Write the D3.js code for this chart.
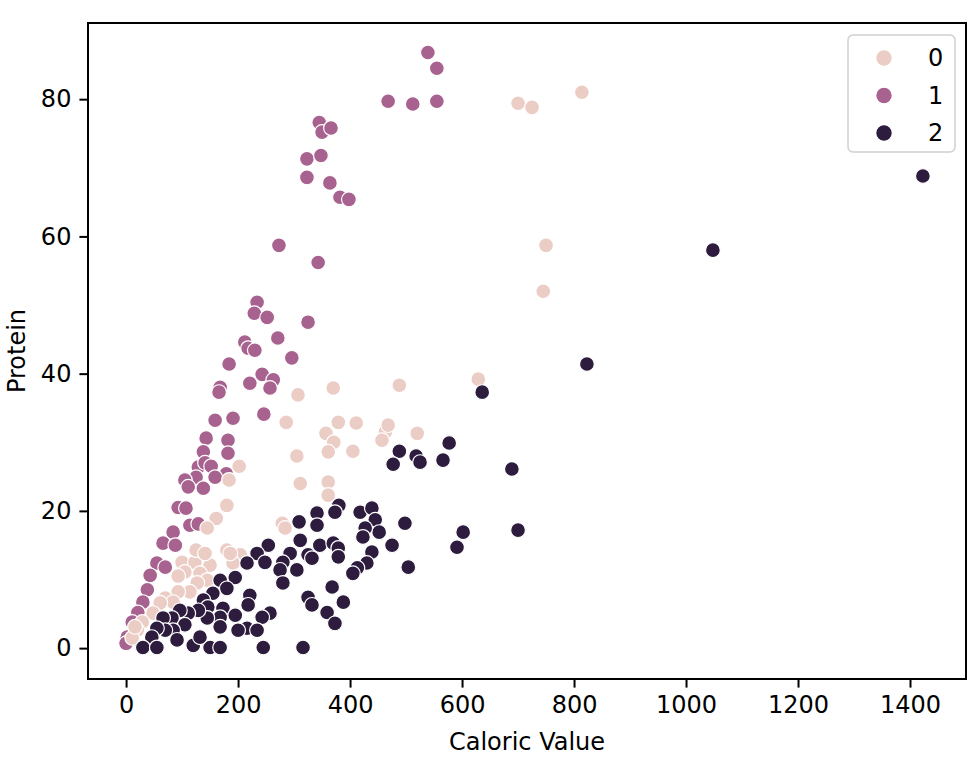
<!DOCTYPE html>
<html>
<head>
<meta charset="utf-8">
<script src="https://cdn.jsdelivr.net/npm/d3@7"></script>
<style>
    body { margin: 0; background: #fff; }
    text { font-family: "DejaVu Sans", sans-serif; fill: #000; }
</style>
</head>
<body>
<div id="chart"></div>
<script>
// [Caloric Value, Protein] per cluster
var cluster0 = [
    [814, 81.0], [700, 79.4], [725, 78.8], [750, 58.7], [745, 52.0], [629, 39.2],
    [488, 38.3], [370, 37.9], [307, 36.9], [286, 32.9], [357, 31.3], [379, 32.9],
    [411, 32.8], [371, 30.0], [361, 28.6], [405, 28.7], [463, 31.5], [457, 30.3],
    [468, 32.5], [520, 31.3], [305, 28.0], [311, 24.0], [361, 24.2], [361, 22.3],
    [202, 26.5], [184, 24.5], [180, 20.8], [161, 18.9], [145, 17.5], [279, 18.2],
    [284, 17.5], [180, 14.3], [204, 13.6], [100, 12.5], [123, 12.5], [150, 12.1],
    [191, 12.4], [105, 11.1], [132, 10.9], [145, 9.9], [127, 9.5], [114, 8.2],
    [93, 8.2], [70, 7.3], [84, 6.7], [61, 6.6], [48, 5.1], [29, 3.8],
    [20, 2.6], [11, 1.5], [16, 3.1], [125, 14.3], [141, 13.8], [93, 10.5],
    [186, 13.8]
];

var cluster1 = [
    [539, 86.8], [555, 84.5], [468, 79.7], [512, 79.3], [555, 79.7], [345, 76.6],
    [350, 75.2], [366, 75.8], [323, 71.3], [348, 71.8], [323, 68.6], [364, 67.8],
    [382, 65.7], [398, 65.4], [273, 58.7], [343, 56.2], [234, 50.4], [229, 48.8],
    [252, 48.2], [325, 47.5], [271, 45.2], [212, 44.6], [218, 43.7], [230, 43.4],
    [296, 42.3], [184, 41.4], [221, 38.6], [243, 39.9], [263, 39.1], [257, 37.9],
    [168, 38.0], [166, 37.3], [246, 34.1], [159, 33.2], [191, 33.5], [143, 30.6],
    [182, 30.3], [182, 28.4], [138, 28.6], [129, 26.4], [141, 27.0], [152, 26.5],
    [125, 24.9], [105, 24.5], [111, 23.5], [138, 23.3], [179, 25.4], [159, 24.9],
    [93, 20.5], [107, 20.4], [114, 17.9], [129, 18.1], [84, 16.9], [66, 15.3],
    [88, 15.0], [55, 12.4], [70, 11.8], [43, 10.6], [38, 8.5], [30, 6.7],
    [21, 5.2], [11, 3.8], [2, 1.6], [0, 0.7]
];

var cluster2 = [
    [1423, 68.8], [1048, 58.0], [823, 41.4], [636, 37.3], [577, 29.9], [488, 28.7],
    [477, 26.8], [518, 28.0], [525, 27.1], [566, 27.4], [689, 26.1], [700, 17.2],
    [602, 16.9], [591, 14.7], [498, 18.2], [475, 15.0], [504, 11.8], [439, 14.0],
    [430, 12.4], [413, 11.7], [405, 10.9], [380, 20.8], [373, 19.8], [418, 19.8],
    [439, 20.4], [445, 18.7], [452, 16.9], [427, 17.5], [423, 16.2], [309, 18.4],
    [341, 19.7], [341, 17.9], [311, 15.7], [346, 15.0], [325, 13.6], [370, 15.3],
    [379, 14.6], [379, 13.3], [293, 13.8], [332, 13.1], [305, 11.4], [368, 8.9],
    [325, 7.4], [332, 6.3], [388, 6.7], [359, 5.2], [373, 3.6], [316, 0.1],
    [254, 15.0], [234, 13.8], [248, 12.5], [280, 12.5], [275, 11.4], [280, 9.5],
    [216, 12.4], [195, 10.3], [168, 9.9], [180, 8.7], [155, 8.0], [138, 7.0],
    [146, 6.0], [173, 5.8], [168, 4.5], [195, 4.8], [221, 7.7], [218, 6.3],
    [257, 5.1], [243, 4.5], [216, 2.9], [234, 2.6], [200, 2.6], [168, 3.1],
    [145, 4.4], [129, 5.5], [111, 5.1], [96, 5.5], [82, 4.4], [66, 4.4],
    [105, 3.4], [84, 2.6], [70, 2.6], [55, 2.9], [46, 1.6], [30, 0.1],
    [55, 0.1], [91, 1.2], [120, 0.4], [150, 0.1], [168, 0.1], [132, 1.6],
    [245, 0.1]
];

var xTicks = [0, 200, 400, 600, 800, 1000, 1200, 1400];
var yTicks = [0, 20, 40, 60, 80];
var legendLabels = ["0", "1", "2"];
var clusterColors = ["#ebcdc6", "#a8628f", "#2d1c3e"];

function init() {
    var w = 980;
    var h = 777;
    var margin = { top: 23, right: 14, bottom: 98, left: 88 }; // axes box inside the figure
    var pw = w - margin.left - margin.right;
    var ph = h - margin.top - margin.bottom;

    var xScale = d3.scaleLinear().domain([-68, 1500]).range([0, pw]);
    var yScale = d3.scaleLinear().domain([-4.5, 91.1]).range([ph, 0]);

    var svg = d3.select("#chart")
        .append("svg")
        .attr("width", w)
        .attr("height", h);

    var g = svg.append("g")
        .attr("transform", "translate(" + margin.left + "," + margin.top + ")");

    // points: purple first, then light, then dark on top
    var layers = [
        { data: cluster1, color: clusterColors[1] },
        { data: cluster0, color: clusterColors[0] },
        { data: cluster2, color: clusterColors[2] }
    ];

    layers.forEach(function(layer) {
        g.append("g")
            .selectAll("circle")
            .data(layer.data)
            .enter()
            .append("circle")
            .attr("cx", function(d) { return xScale(d[0]); })
            .attr("cy", function(d) { return yScale(d[1]); })
            .attr("r", 7.4)
            .style("fill", layer.color)
            .style("stroke", "#fff")
            .style("stroke-width", 1.2);
    });

    // axes
    var xAxis = d3.axisBottom(xScale).tickValues(xTicks).tickFormat(d3.format("d"))
        .tickSize(8.6).tickPadding(8).tickSizeOuter(0);
    var yAxis = d3.axisLeft(yScale).tickValues(yTicks).tickFormat(d3.format("d"))
        .tickSize(8.6).tickPadding(8).tickSizeOuter(0);

    var gx = g.append("g")
        .attr("transform", "translate(0," + ph + ")")
        .call(xAxis);
    var gy = g.append("g").call(yAxis);

    [gx, gy].forEach(function(a) {
        a.select(".domain").remove();
        a.selectAll("line").attr("stroke", "#000").attr("stroke-width", 2);
        a.selectAll("text").style("font-size", "24px").style("font-family", "DejaVu Sans, sans-serif");
    });

    // frame
    g.append("rect")
        .attr("width", pw)
        .attr("height", ph)
        .style("fill", "none")
        .style("stroke", "#000")
        .style("stroke-width", 2);

    // axis titles
    svg.append("text")
        .attr("x", margin.left + pw / 2)
        .attr("y", 750)
        .style("text-anchor", "middle")
        .style("font-size", "24px")
        .text("Caloric Value");

    svg.append("text")
        .attr("transform", "translate(25," + (margin.top + ph / 2) + ") rotate(-90)")
        .style("text-anchor", "middle")
        .style("font-size", "24px")
        .text("Protein");

    // legend
    var legend = svg.append("g").attr("transform", "translate(848,35)");
    legend.append("rect")
        .attr("width", 107)
        .attr("height", 117)
        .attr("rx", 5)
        .style("fill", "#fff")
        .style("fill-opacity", 0.8)
        .style("stroke", "#d0d0d0")
        .style("stroke-width", 1.5);

    var items = legend.selectAll(".legend")
        .data(legendLabels)
        .enter()
        .append("g")
        .attr("class", "legend")
        .attr("transform", function(d, i) { return "translate(0," + (23 + i * 37.5) + ")"; });

    items.append("circle")
        .attr("cx", 36)
        .attr("r", 8.3)
        .style("fill", function(d, i) { return clusterColors[i]; })
        .style("stroke", "#fff")
        .style("stroke-width", 1.2);

    items.append("text")
        .attr("x", 80)
        .attr("dy", "0.35em")
        .style("font-size", "24px")
        .text(function(d) { return d; });
}

window.onload = init;
</script>
</body>
</html>
